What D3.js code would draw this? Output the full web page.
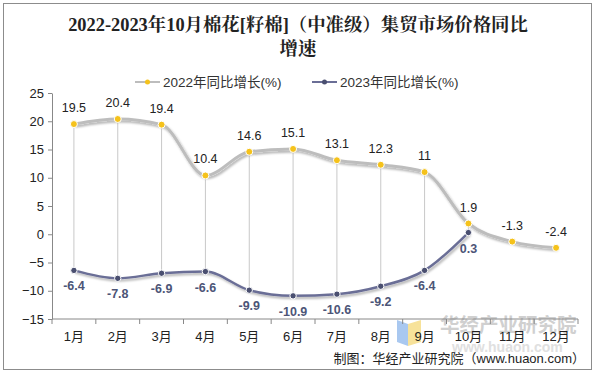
<!DOCTYPE html>
<html>
<head>
<meta charset="utf-8">
<script src="https://cdn.jsdelivr.net/npm/d3@7"></script>
<style>
  body { margin: 0; background: #fff; }
  svg { font-family: Arial, "Liberation Sans", "Noto Sans CJK SC", sans-serif; }
</style>
</head>
<body>
<div id="chart"></div>
<script>
(function () {

  // Data
  const months = ["1月","2月","3月","4月","5月","6月","7月","8月","9月","10月","11月","12月"]
  const growth2022 = [19.5, 20.4, 19.4, 10.4, 14.6, 15.1, 13.1, 12.3, 11, 1.9, -1.3, -2.4]
  const growth2023 = [-6.4, -7.8, -6.9, -6.6, -9.9, -10.9, -10.6, -9.2, -6.4, 0.3]
  const yTicks = [25, 20, 15, 10, 5, 0, -5, -10, -15]

  const W = 596, H = 376
  const margin = { top: 93, right: 18, bottom: 57, left: 52 }
  const width = 578 - margin.left
  const height = 319 - margin.top

  const svg = d3.select("#chart").append("svg")
      .attr("width", W)
      .attr("height", H)

  // frame
  svg.append("rect")
    .attr("x", 3.5).attr("y", 3.5)
    .attr("width", 588).attr("height", 366)
    .attr("fill", "#fff").attr("stroke", "#8c8c8c")

  // shadow filter for lines
  const defs = svg.append("defs")
  const f = defs.append("filter").attr("id", "shadow")
    .attr("x", "-5%").attr("y", "-20%").attr("width", "110%").attr("height", "150%")
  f.append("feDropShadow").attr("dx", 1.5).attr("dy", 2).attr("stdDeviation", 1.2)
    .attr("flood-color", "#000").attr("flood-opacity", 0.3)

  // watermark logo (behind everything)
  const wm = svg.append("g")
  wm.append("path").attr("d", "M397,320 L408,324 L408,346 L397,342 Z").attr("fill", "#a9c8f0")
  wm.append("path").attr("d", "M408,324 L421,320 L421,342 L408,346 Z").attr("fill", "#f7e29a")
  wm.append("text").attr("x", 440).attr("y", 332)
    .style("font-size", "19.5px").style("font-weight", "bold").attr("fill", "#d0d0d0")
    .style("font-family", "'Noto Sans CJK SC', sans-serif")
    .text("华经产业研究院")
  wm.append("text").attr("x", 452).attr("y", 352)
    .style("font-size", "14px").style("font-weight", "bold").attr("fill", "#e0e0e0")
    .text("www.huaon.com")

  // Title - stretch first line to the reference width (~460px)
  const title = svg.append("text")
    .attr("text-anchor", "middle")
    .style("font-family", "'Liberation Serif', 'Noto Serif CJK SC', 'Noto Sans CJK SC', serif")
    .style("font-size", "17px").style("font-weight", "bold").attr("fill", "#222")
  const t1 = title.append("tspan").attr("x", 298).attr("y", 31).text("2022-2023年10月棉花[籽棉]（中准级）集贸市场价格同比")
  title.append("tspan").attr("x", 298).attr("y", 55).text("增速")
  const len = t1.node().getComputedTextLength()
  if (len > 0) title.style("font-size", Math.min(20, 17 * 460 / len) + "px")

  const g = svg.append("g")
    .attr("transform", "translate(" + margin.left + "," + margin.top + ")")

  const x = d3.scaleBand().domain(months).range([0, width])
  const y = d3.scaleLinear().domain([-15, 25]).range([height, 0])
  const cx = d => x(d) + x.bandwidth() / 2

  // y axis
  const yAxis = g.append("g")
    .call(d3.axisLeft(y).tickValues(yTicks).tickSize(4).tickSizeOuter(0))
  yAxis.selectAll("text").style("font-size", "13px").attr("fill", "#222").attr("dx", -1)
  yAxis.selectAll("line, path").attr("stroke", "#888")

  // x axis
  const xAxis = g.append("g").attr("transform", "translate(0," + height + ")")
  xAxis.append("line").attr("x1", 0).attr("x2", width).attr("stroke", "#888")
  xAxis.selectAll(".tk").data(d3.range(months.length + 1)).join("line")
    .attr("x1", i => i * x.step()).attr("x2", i => i * x.step())
    .attr("y1", 0).attr("y2", 5).attr("stroke", "#888")
  xAxis.selectAll(".lbl").data(months).join("text")
    .attr("x", cx).attr("y", 22).attr("text-anchor", "middle")
    .style("font-size", "13px").attr("fill", "#222")
    .text(d => d)

  // hi-low drop lines
  g.selectAll(".drop").data(growth2023).join("line")
    .attr("x1", (d, i) => cx(months[i])).attr("x2", (d, i) => cx(months[i]))
    .attr("y1", (d, i) => y(growth2022[i])).attr("y2", d => y(d))
    .attr("stroke", "#c8c8c8").attr("stroke-width", 1)

  const line = d3.line().curve(d3.curveMonotoneX)
    .x(d => cx(d[0])).y(d => y(d[1]))

  const s22 = months.map((m, i) => [m, growth2022[i]])
  const s23 = growth2023.map((v, i) => [months[i], v])

  g.append("path").datum(s22).attr("d", line)
    .attr("fill", "none").attr("stroke", "#bdbdbd").attr("stroke-width", 3)
    .attr("filter", "url(#shadow)")
  g.append("path").datum(s23).attr("d", line)
    .attr("fill", "none").attr("stroke", "#6a6e96").attr("stroke-width", 2.5)
    .attr("filter", "url(#shadow)")

  g.selectAll(".m22").data(s22).join("circle")
    .attr("cx", d => cx(d[0])).attr("cy", d => y(d[1])).attr("r", 3.5)
    .attr("fill", "#f5c21b").attr("stroke", "#fff").attr("stroke-width", 1)
  g.selectAll(".m23").data(s23).join("circle")
    .attr("cx", d => cx(d[0])).attr("cy", d => y(d[1])).attr("r", 3.2)
    .attr("fill", "#4a4f70").attr("stroke", "#fff").attr("stroke-width", 1)

  // labels
  g.selectAll(".l22").data(s22).join("text")
    .attr("x", d => cx(d[0])).attr("y", d => y(d[1]) - 12)
    .attr("text-anchor", "middle").style("font-size", "12.5px").attr("fill", "#222")
    .text(d => d[1])
  g.selectAll(".l23").data(s23).join("text")
    .attr("x", d => cx(d[0])).attr("y", d => y(d[1]) + 20)
    .attr("text-anchor", "middle").style("font-size", "12.5px").style("font-weight", "bold")
    .attr("fill", "#4d5577")
    .text(d => d[1])

  // legend
  const leg = svg.append("g").attr("transform", "translate(0,82)")
  const items = [
    { name: "2022年同比增长(%)", x0: 135, line: "#bdbdbd", dot: "#f5c21b" },
    { name: "2023年同比增长(%)", x0: 312, line: "#6a6e96", dot: "#4a4f70" }
  ]
  items.forEach(it => {
    leg.append("line").attr("x1", it.x0).attr("x2", it.x0 + 25).attr("y1", 0).attr("y2", 0)
      .attr("stroke", it.line).attr("stroke-width", 2)
    leg.append("circle").attr("cx", it.x0 + 12.5).attr("cy", 0).attr("r", 2.5).attr("fill", it.dot)
    leg.append("text").attr("x", it.x0 + 28).attr("y", 5)
      .style("font-size", "13.5px").attr("fill", "#333").text(it.name)
  })

  // source
  svg.append("text").attr("x", 585).attr("y", 363).attr("text-anchor", "end")
    .style("font-size", "13px").attr("fill", "#222")
    .text("制图：华经产业研究院（www.huaon.com）")

})();
</script>
</body>
</html>
